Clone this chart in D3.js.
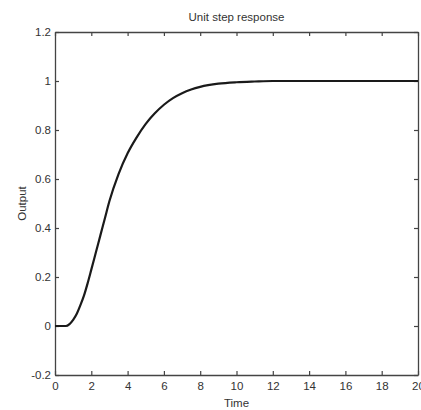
<!DOCTYPE html>
<html>
<head>
<meta charset="utf-8">
<script src="https://cdn.jsdelivr.net/npm/d3@7"></script>
<style>
  html, body { margin: 0; padding: 0; background: #fff; }
  svg text { font-family: "Liberation Sans", Arial, sans-serif; fill: #333; }
</style>
</head>
<body>
<div id="container"></div>
<script>
/* CONSTANTS AND GLOBALS */
const width = 421,
  height = 410,
  margin = { top: 32, bottom: 35, left: 55, right: 3 };

/* DATA */
const times   = [0, 0.6, 0.8, 1.0, 1.2, 1.4, 1.6, 1.8, 2.0, 2.25, 2.5, 2.75, 3.0, 3.5, 4.0, 4.5, 5.0, 5.5, 6.0, 6.5, 7.0, 7.5, 8, 9, 10, 11, 12, 14, 16, 18, 20];
const outputs = [0, 0, 0.008, 0.025, 0.05, 0.085, 0.125, 0.175, 0.23, 0.3, 0.37, 0.44, 0.51, 0.62, 0.705, 0.77, 0.825, 0.868, 0.903, 0.93, 0.95, 0.965, 0.976, 0.989, 0.995, 0.998, 1, 1, 1, 1, 1];
const xTicks = [0, 2, 4, 6, 8, 10, 12, 14, 16, 18, 20];
const yTicks = [-0.2, 0, 0.2, 0.4, 0.6, 0.8, 1, 1.2];

const data = times.map((t, i) => ({ t: t, y: outputs[i] }));

/* SCALES */
const xScale = d3.scaleLinear()
  .domain([0, 20])
  .range([margin.left, width - margin.right]);

const yScale = d3.scaleLinear()
  .domain([-0.2, 1.2])
  .range([height - margin.bottom, margin.top]);

/* SVG */
const svg = d3.select("#container")
  .append("svg")
  .attr("width", width)
  .attr("height", height);

const tickLen = 4;
const axisColor = "#444";

// axes, ticks pointing inward on all four sides (matlab style)
svg.append("g")
  .attr("transform", `translate(0, ${height - margin.bottom})`)
  .call(d3.axisBottom(xScale).tickValues(xTicks).tickSizeInner(-tickLen).tickSizeOuter(0).tickPadding(7).tickFormat(d3.format("d")));

svg.append("g")
  .attr("transform", `translate(0, ${margin.top})`)
  .call(d3.axisTop(xScale).tickValues(xTicks).tickSizeInner(-tickLen).tickSizeOuter(0).tickFormat(""));

svg.append("g")
  .attr("transform", `translate(${margin.left}, 0)`)
  .call(d3.axisLeft(yScale).tickValues(yTicks).tickSizeInner(-tickLen).tickSizeOuter(0).tickPadding(4).tickFormat(d => String(+d.toFixed(1))));

svg.append("g")
  .attr("transform", `translate(${width - margin.right}, 0)`)
  .call(d3.axisRight(yScale).tickValues(yTicks).tickSizeInner(-tickLen).tickSizeOuter(0).tickFormat(""));

svg.selectAll(".domain").attr("stroke", axisColor).attr("stroke-width", 1.3);
svg.selectAll(".tick line").attr("stroke", axisColor).attr("stroke-width", 1.2);
svg.selectAll(".tick text").style("font-size", "11.5px").attr("fill", "#333");

/* LINE */
const line = d3.line()
  .x(d => xScale(d.t))
  .y(d => yScale(d.y))
  .curve(d3.curveMonotoneX);

svg.append("path")
  .datum(data)
  .attr("d", line)
  .attr("fill", "none")
  .attr("stroke", "#1a1a1a")
  .attr("stroke-width", 2.2);

/* LABELS */
svg.append("text")
  .attr("x", (margin.left + width - margin.right) / 2)
  .attr("y", 21)
  .attr("text-anchor", "middle")
  .style("font-size", "11.5px")
  .text("Unit step response");

svg.append("text")
  .attr("x", (margin.left + width - margin.right) / 2)
  .attr("y", 407)
  .attr("text-anchor", "middle")
  .style("font-size", "11.5px")
  .text("Time");

svg.append("text")
  .attr("transform", `translate(26, ${(margin.top + height - margin.bottom) / 2}) rotate(-90)`)
  .attr("text-anchor", "middle")
  .style("font-size", "11.5px")
  .text("Output");
</script>
</body>
</html>
